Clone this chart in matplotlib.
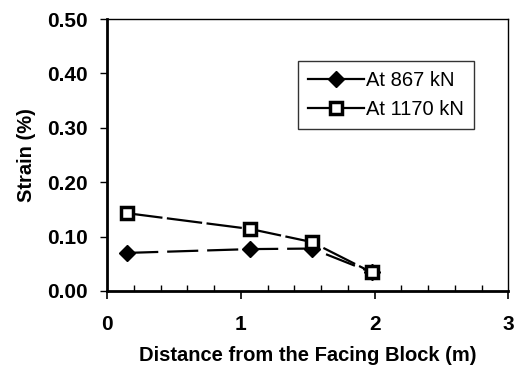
import matplotlib
matplotlib.use("Agg")
import matplotlib.pyplot as plt
from matplotlib.ticker import MultipleLocator
from matplotlib.lines import Line2D

plt.rcParams['font.family'] = ['Liberation Sans', 'DejaVu Sans']

# distance from facing block (m) and measured strain (%)
dist_867 = [0.15, 1.07, 1.53, 1.98]
strain_867 = [0.070, 0.077, 0.078, 0.034]
dist_1170 = [0.15, 1.07, 1.53, 1.98]
strain_1170 = [0.143, 0.114, 0.090, 0.034]
labels = ['At 867 kN', 'At 1170 kN']

fig = plt.figure(figsize=(5.15, 3.74), dpi=100)
ax = fig.add_axes([0.208, 0.222, 0.779, 0.727])

style_867 = dict(color='black', marker='D', ms=8, mfc='black', mec='black')
style_1170 = dict(color='black', marker='s', ms=9, mfc='white', mec='black', mew=2.5)

ax.plot(dist_867, strain_867, lw=1.6, dashes=(14, 4), **style_867)
ax.plot(dist_1170, strain_1170, lw=1.6, dashes=(16, 2), **style_1170)

ax.set_xlim(0, 3)
ax.set_ylim(0, 0.5)
ax.xaxis.set_major_locator(MultipleLocator(1))
ax.xaxis.set_minor_locator(MultipleLocator(0.2))
ax.yaxis.set_major_locator(MultipleLocator(0.1))
ax.yaxis.set_major_formatter(plt.FormatStrFormatter('%.2f'))

ax.tick_params(axis='x', which='major', direction='out', length=6, width=1.2,
               labelsize=15, pad=11)
ax.tick_params(axis='x', which='minor', direction='in', length=4, width=1)
ax.tick_params(axis='y', which='major', direction='out', length=5, width=1,
               labelsize=15, pad=9)
for lab in ax.get_xticklabels() + ax.get_yticklabels():
    lab.set_fontweight('bold')

ax.spines['left'].set_linewidth(2)
ax.spines['bottom'].set_linewidth(2)
ax.spines['top'].set_linewidth(1)
ax.spines['right'].set_linewidth(1)

ax.set_xlabel('Distance from the Facing Block (m)', fontsize=14.5,
              fontweight='bold', labelpad=9)
ax.set_ylabel('Strain (%)', fontsize=14.5, fontweight='bold', labelpad=8)

# legend keys use solid lines
handles = [Line2D([], [], lw=1.6, **style_867),
           Line2D([], [], lw=1.6, **style_1170)]
leg = ax.legend(handles, labels, loc='upper right', bbox_to_anchor=(0.915, 0.846),
                fontsize=14.5, frameon=True, fancybox=False, handlelength=2.8,
                handletextpad=0.1, borderpad=0.5, labelspacing=0.5,
                borderaxespad=0)
leg.get_frame().set_edgecolor('black')
leg.get_frame().set_linewidth(1)

fig.savefig('out.png', dpi=100)
